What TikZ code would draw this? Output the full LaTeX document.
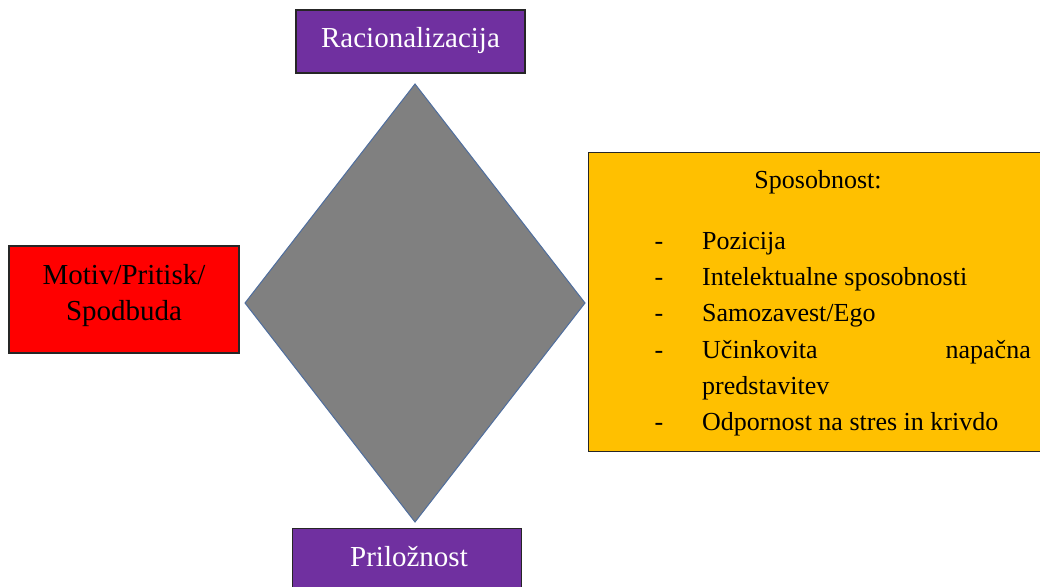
\documentclass[tikz,border=0pt]{standalone}
\usepackage{fontspec}
\setmainfont{Liberation Serif}
\definecolor{purp}{HTML}{7030A0}
\definecolor{gold}{HTML}{FFC000}
\definecolor{diabord}{HTML}{4F6E9E}
\begin{document}
\begin{tikzpicture}[x=1pt,y=-1pt,
  box/.style={draw=black!85, line width=1.2pt, inner sep=0pt},
  lbl/.style={font=\fontsize{29}{40}\selectfont, inner sep=0pt, align=center},
  item/.style={font=\fontsize{26}{36}\selectfont, inner sep=0pt, anchor=base west},
  dashitem/.style={font=\fontsize{26}{36}\selectfont, inner sep=0pt, anchor=base}]
\useasboundingbox (0,0) rectangle (1040,586);
% diamond
\draw[fill=black!50, draw=diabord, line width=1pt] (415,84) coordinate (dt) -- (585,303) coordinate (dr) -- (415,522) coordinate (db) -- (245,303) coordinate (dl) -- cycle;
% top box
\node[box, fill=purp, minimum width=229pt, minimum height=63pt] (rac) at (410.5,41.5) {};
\node[lbl, text=white] (ractext) at (410.5,41) {Racionalizacija};
% bottom box
\node[box, fill=purp, minimum width=229pt, minimum height=66pt, anchor=north west] (pri) at (292,528) {};
\node[lbl, text=white] (pritext) at (409,557) {Priložnost};
% left box
\node[box, fill=red, minimum width=230pt, minimum height=107pt] (mot) at (124,299.5) {};
\node[lbl] (mot1) at (124,275) {Motiv/Pritisk/};
\node[lbl] (mot2) at (124,314) {Spodbuda};
% right box
\node[box, fill=gold, minimum width=456pt, minimum height=299pt, anchor=north west] (spo) at (588,152) {};
\node[dashitem] (spotitle) at (818,188) {Sposobnost:};
\foreach \y/\t [count=\i] in {249/{Pozicija}, 285/{Intelektualne sposobnosti}, 321/{Samozavest/Ego}, 358/{Učinkovita}, 430/{Odpornost na stres in krivdo}}{
  \node[dashitem] (d\i) at (659,\y) {-};
  \node[item] (t\i) at (702,\y) {\t};
}
\node[item] (t6) at (702,394) {predstavitev};
\node[item, anchor=base east] (t7) at (1031,358) {napačna};
\end{tikzpicture}
\end{document}
